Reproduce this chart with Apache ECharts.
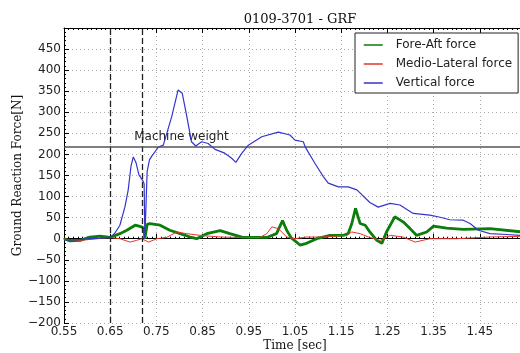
<!DOCTYPE html>
<html>
<head>
<meta charset="utf-8">
<script src="https://cdn.jsdelivr.net/npm/echarts@6/dist/echarts.min.js"></script>
<style>
	html, body { margin: 0; padding: 0; background: #fff; }
	#chart { width: 520px; height: 353px; }
</style>
</head>
<body>
<div id="chart"></div>
<script>
// Fore-Aft force (green)
var foreAftT = [0.55, 0.563, 0.585, 0.606, 0.628, 0.65, 0.671, 0.686, 0.704, 0.718, 0.723, 0.725, 0.727, 0.730, 0.736, 0.758, 0.779, 0.801, 0.823, 0.837, 0.859, 0.888, 0.909, 0.935, 0.953, 0.989, 1.010, 1.023, 1.032, 1.042, 1.061, 1.075, 1.097, 1.126, 1.155, 1.165, 1.173, 1.181, 1.191, 1.202, 1.212, 1.227, 1.238, 1.248, 1.266, 1.284, 1.299, 1.313, 1.335, 1.35, 1.378, 1.414, 1.472, 1.55]
var foreAftV = [0, -5, -4, 4, 6, 3, 12, 20, 32, 28, 25, 0, 0, 34, 36, 32, 20, 12, 4, 0, 12, 19, 12, 4, 3, 3, 12, 43, 20, 2, -15, -11, 0, 8, 8, 12, 36, 72, 36, 32, 16, -4, -11, 16, 52, 40, 24, 8, 16, 30, 25, 22, 24, 15]
// Medio-Lateral force (red)
var medioT = [0.55, 0.585, 0.65, 0.671, 0.693, 0.707, 0.718, 0.733, 0.751, 0.772, 0.794, 0.816, 0.844, 0.888, 0.931, 0.974, 0.989, 1.0, 1.014, 1.032, 1.05, 1.075, 1.111, 1.162, 1.173, 1.191, 1.209, 1.234, 1.256, 1.284, 1.31, 1.342, 1.4, 1.472, 1.55]
var medioV = [-1, -4, 3, 0, -8, -4, 0, -8, 0, 3, 16, 12, 8, 4, 3, 3, 12, 28, 24, 4, 0, 4, 4, 8, 16, 12, 4, -4, 8, 4, -8, 0, 0, 4, 6]
// Vertical force (blue)
var verticalT = [0.55, 0.58, 0.61, 0.64, 0.65, 0.66, 0.671, 0.682, 0.689, 0.695, 0.700, 0.706, 0.712, 0.7215, 0.7235, 0.725, 0.727, 0.730, 0.735, 0.740, 0.754, 0.765, 0.783, 0.797, 0.801, 0.806, 0.816, 0.826, 0.835, 0.848, 0.862, 0.877, 0.898, 0.913, 0.922, 0.935, 0.949, 0.978, 1.014, 1.039, 1.050, 1.068, 1.072, 1.093, 1.111, 1.122, 1.144, 1.165, 1.184, 1.212, 1.230, 1.256, 1.277, 1.306, 1.342, 1.364, 1.385, 1.414, 1.429, 1.447, 1.472, 1.508, 1.55]
var verticalV = [-3, -2, 0, 2, 3, 13, 32, 76, 116, 172, 194, 180, 152, 136, 130, 0, 0, 160, 187, 196, 217, 222, 289, 353, 357, 345, 289, 230, 220, 230, 226, 212, 203, 191, 181, 203, 222, 242, 253, 246, 234, 230, 218, 179, 148, 132, 123, 123, 116, 86, 75, 84, 80, 60, 56, 51, 45, 44, 36, 20, 12, 10, 7]

var markerTimes = [0.65, 0.724]
var machineWeight = 218

function zip(t, v) {
	return t.map(function (x, i) { return [x, v[i]] })
}

var sans = 'DejaVu Sans'
var serif = 'DejaVu Serif'

var chart = echarts.init(document.getElementById('chart'))
chart.setOption({
	backgroundColor: '#fff',
	animation: false,
	title: {
		text: '0109-3701 - GRF',
		left: 295,
		textAlign: 'center',
		top: 8,
		textStyle: { fontFamily: serif, fontSize: 13, fontWeight: 'normal', color: '#111' }
	},
	legend: {
		orient: 'vertical',
		left: 355,
		top: 33,
		padding: [6, 6, 4, 8],
		itemGap: 7,
		itemWidth: 19,
		itemHeight: 12,
		borderColor: '#222',
		borderWidth: 1,
		backgroundColor: '#fff',
		itemStyle: { opacity: 0 },
		lineStyle: { width: 1.5 },
		textStyle: { fontFamily: sans, fontSize: 12, color: '#222', padding: [0, 0, 0, 8] },
		data: ['Fore-Aft force', 'Medio-Lateral force', 'Vertical force']
	},
	grid: {
		left: 64,
		top: 28,
		right: -6,
		bottom: 30,
		outerBoundsMode: 'none'
	},
	xAxis: [{
		type: 'value',
		min: 0.55,
		max: 1.55,
		interval: 0.1,
		name: 'Time [sec]',
		nameLocation: 'middle',
		nameGap: 17,
		nameMoveOverlap: false,
		nameTextStyle: { fontFamily: serif, fontSize: 12, color: '#111' },
		axisLine: { show: true, lineStyle: { color: '#000', width: 1 } },
		axisTick: { show: true, inside: true, length: 5, lineStyle: { color: '#000' } },
		minorTick: { show: true, splitNumber: 10, length: 2, lineStyle: { color: '#000' } },
		axisLabel: {
			fontFamily: sans, fontSize: 12, color: '#222', margin: 3, showMaxLabel: false,
			formatter: function (v) { return v.toFixed(2) }
		},
		splitLine: { show: true, lineStyle: { color: '#aaa', type: [1, 3], width: 1 } }
	}, {
		type: 'value',
		position: 'top',
		min: 0.55,
		max: 1.55,
		interval: 0.1,
		axisLine: { show: true, lineStyle: { color: '#000', width: 1 } },
		axisTick: { show: true, inside: true, length: 5, lineStyle: { color: '#000' } },
		minorTick: { show: true, splitNumber: 10, length: 2, lineStyle: { color: '#000' } },
		axisLabel: { show: false },
		splitLine: { show: false }
	}],
	yAxis: {
		type: 'value',
		min: -200,
		max: 500,
		interval: 50,
		name: 'Ground Reaction Force[N]',
		nameLocation: 'middle',
		nameGap: 40,
		nameMoveOverlap: false,
		nameTextStyle: { fontFamily: serif, fontSize: 12, color: '#111' },
		axisLine: { show: true, lineStyle: { color: '#000', width: 1 } },
		axisTick: { show: true, inside: true, length: 5, lineStyle: { color: '#000' } },
		minorTick: { show: true, splitNumber: 5, length: 2, lineStyle: { color: '#000' } },
		axisLabel: {
			fontFamily: sans, fontSize: 12, color: '#222', margin: 3, showMaxLabel: false,
			formatter: function (v) { return v < 0 ? '\u2212' + Math.abs(v) : String(v) }
		},
		splitLine: { show: true, lineStyle: { color: '#aaa', type: [1, 3], width: 1 } }
	},
	series: [{
		name: 'Fore-Aft force',
		type: 'line',
		symbol: 'none',
		z: 3,
		data: zip(foreAftT, foreAftV),
		lineStyle: { color: '#0a7d0a', width: 2.8 },
		itemStyle: { color: '#0a7d0a' },
		markLine: {
			silent: true,
			symbol: 'none',
			label: { show: false },
			lineStyle: { color: '#222', type: [6, 3], width: 1.3 },
			data: markerTimes.map(function (t) { return { xAxis: t } })
		}
	}, {
		name: 'Medio-Lateral force',
		type: 'line',
		symbol: 'none',
		z: 4,
		data: zip(medioT, medioV),
		lineStyle: { color: '#e8322a', width: 1 },
		itemStyle: { color: '#e8322a' },
		markLine: {
			silent: true,
			symbol: 'none',
			label: { show: false },
			lineStyle: { color: '#555', type: 'solid', width: 1.6 },
			data: [{ yAxis: machineWeight }]
		},
		markPoint: {
			silent: true,
			symbol: 'rect',
			symbolSize: 1,
			itemStyle: { color: 'rgba(0,0,0,0)' },
			label: {
				show: true,
				position: [0, -15],
				formatter: 'Machine weight',
				fontFamily: sans,
				fontSize: 12,
				color: '#222'
			},
			data: [{ coord: [0.703, machineWeight] }]
		}
	}, {
		name: 'Vertical force',
		type: 'line',
		symbol: 'none',
		z: 5,
		data: zip(verticalT, verticalV),
		lineStyle: { color: '#3535cc', width: 1.2 },
		itemStyle: { color: '#3535cc' }
	}]
})
</script>
</body>
</html>
